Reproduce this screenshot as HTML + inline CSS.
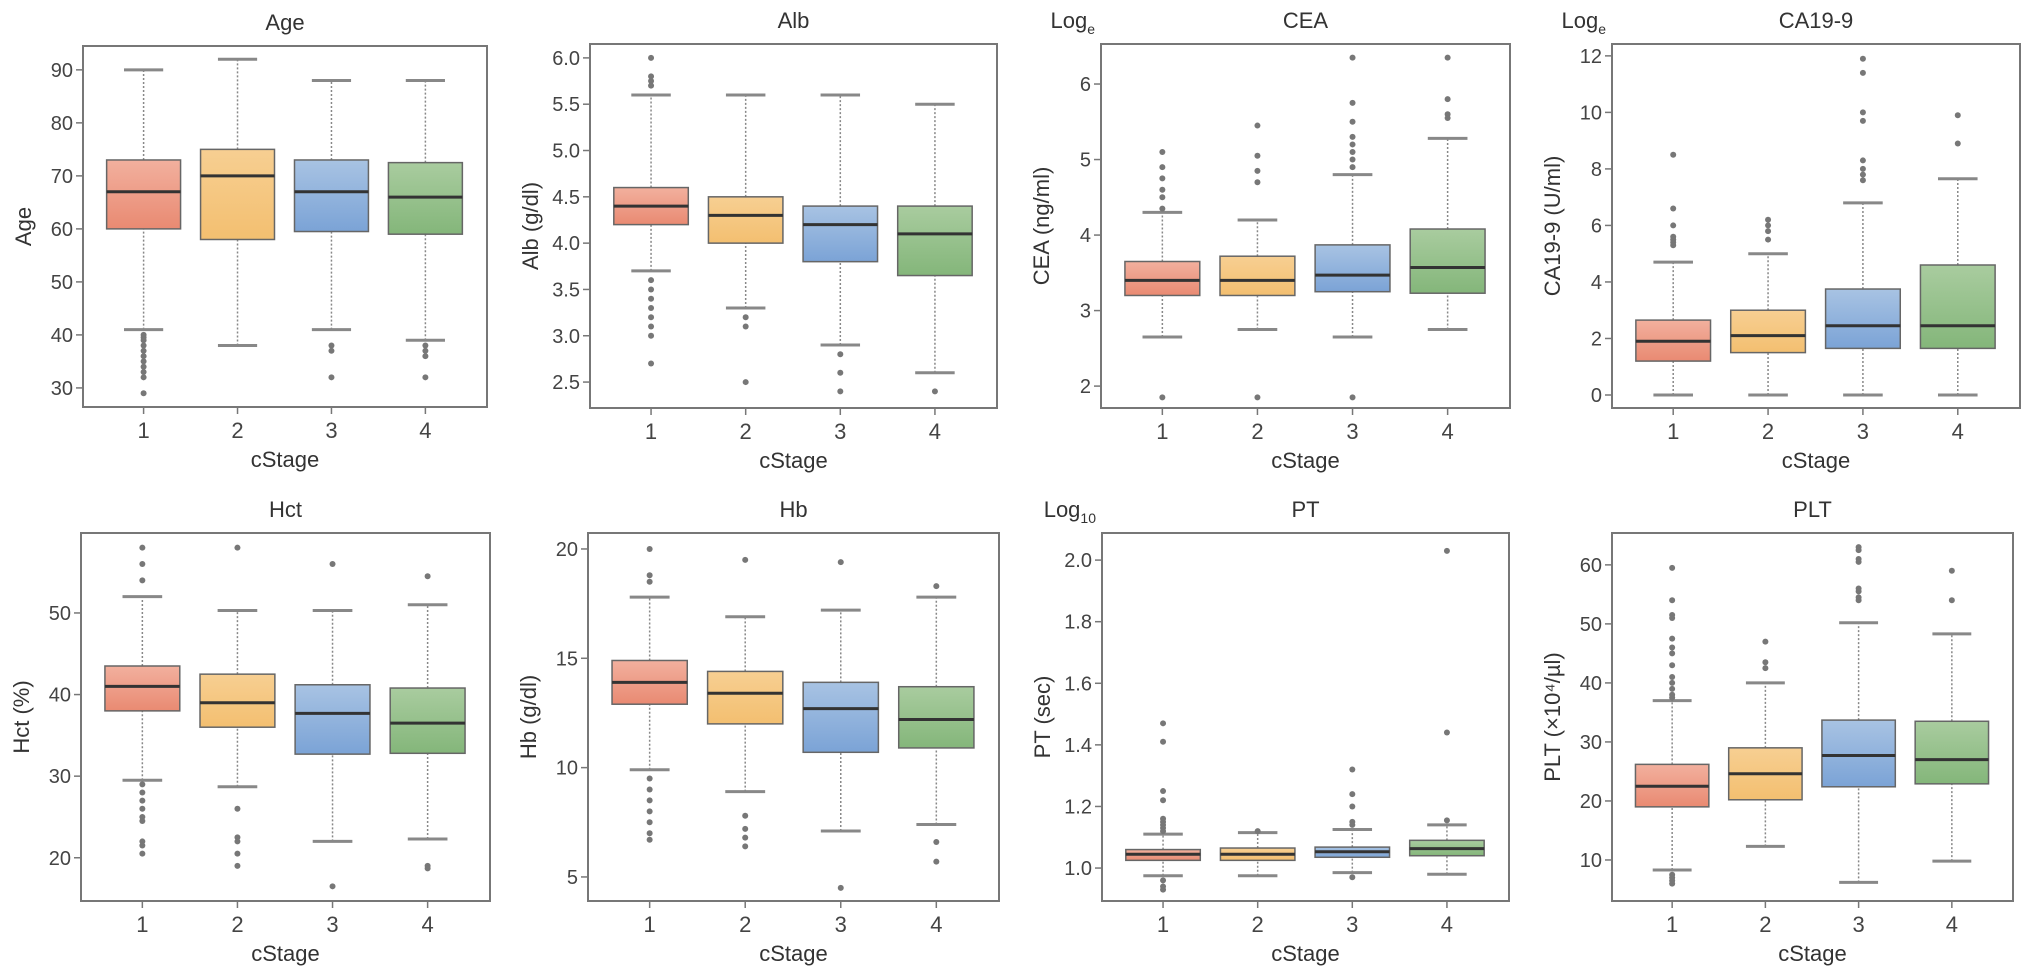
<!DOCTYPE html>
<html><head><meta charset="utf-8"><style>
html,body{margin:0;padding:0;background:#fff;}
svg{display:block;font-family:"Liberation Sans",sans-serif;}
</style></head><body>
<svg id="fig" width="2032" height="980" viewBox="0 0 2032 980" xmlns="http://www.w3.org/2000/svg">
<defs>
<linearGradient id="g0" x1="0" y1="0" x2="0" y2="1"><stop offset="0" stop-color="#f2b09e"/><stop offset="1" stop-color="#e98a72"/></linearGradient>
<linearGradient id="g1" x1="0" y1="0" x2="0" y2="1"><stop offset="0" stop-color="#f7cf92"/><stop offset="1" stop-color="#f3bf70"/></linearGradient>
<linearGradient id="g2" x1="0" y1="0" x2="0" y2="1"><stop offset="0" stop-color="#a8c3e3"/><stop offset="1" stop-color="#7ba3d6"/></linearGradient>
<linearGradient id="g3" x1="0" y1="0" x2="0" y2="1"><stop offset="0" stop-color="#a9cc9f"/><stop offset="1" stop-color="#84b67a"/></linearGradient>
</defs>
</svg>
<script>
const categories = ["1","2","3","4"];
// each stat: [lowerWhisker, q1, median, q3, upperWhisker]
const ageStats = [[41,60,67,73,90],[38,58,70,75,92],[41,59.5,67,73,88],[39,59,66,72.5,88]];
const ageOut = [[40,39.5,39,38,37,36,35,34,33,32,29],[],[38,37,32],[38,37,36,32]];
const albStats = [[3.7,4.2,4.4,4.6,5.6],[3.3,4.0,4.3,4.5,5.6],[2.9,3.8,4.2,4.4,5.6],[2.6,3.65,4.1,4.4,5.5]];
const albOut = [[6.0,5.8,5.75,5.7,3.6,3.5,3.4,3.3,3.2,3.1,3.0,2.7],[3.2,3.1,2.5],[2.8,2.6,2.4],[2.4]];
const ceaStats = [[2.65,3.2,3.4,3.65,4.3],[2.75,3.2,3.4,3.72,4.2],[2.65,3.25,3.47,3.87,4.8],[2.75,3.23,3.57,4.08,5.28]];
const ceaOut = [[5.1,4.9,4.75,4.6,4.5,4.35,1.85],[5.45,5.05,4.85,4.7,1.85],[6.35,5.75,5.5,5.3,5.2,5.1,5.0,4.9,1.85],[6.35,5.8,5.6,5.55]];
const caStats = [[0,1.2,1.9,2.65,4.7],[0,1.5,2.1,3.0,5.0],[0,1.65,2.45,3.75,6.8],[0,1.65,2.45,4.6,7.65]];
const caOut = [[8.5,6.6,6.0,5.6,5.5,5.4,5.3],[6.2,6.0,5.8,5.5],[11.9,11.4,10.0,9.7,8.3,8.0,7.8,7.6],[9.9,8.9]];
const hctStats = [[29.5,38,41,43.5,52],[28.7,36,39,42.5,50.3],[22,32.7,37.7,41.2,50.3],[22.3,32.8,36.5,40.8,51]];
const hctOut = [[58,56,54,29,28,27,26,25,24.5,22,21.5,20.5],[58,26,22.5,22,20.5,19],[56,16.5],[54.5,19,18.7]];
const hbStats = [[9.9,12.9,13.9,14.9,17.8],[8.9,12,13.4,14.4,16.9],[7.1,10.7,12.7,13.9,17.2],[7.4,10.9,12.2,13.7,17.8]];
const hbOut = [[20,18.8,18.5,9.5,9,8.5,8,7.5,7,6.7],[19.5,7.8,7.2,6.8,6.4],[19.4,4.5],[18.3,6.6,5.7]];
const ptStats = [[0.975,1.025,1.045,1.06,1.11],[0.975,1.025,1.045,1.065,1.115],[0.985,1.035,1.053,1.068,1.125],[0.98,1.04,1.063,1.09,1.14]];
const ptOut = [[1.47,1.41,1.25,1.22,1.16,1.15,1.14,1.13,1.12,0.96,0.94,0.93],[1.12],[1.32,1.24,1.20,1.15,1.14,0.97],[2.03,1.44,1.155]];
const pltStats = [[8.3,19,22.5,26.2,37],[12.3,20.2,24.6,29,40],[6.2,22.4,27.7,33.7,50.2],[9.8,22.9,27,33.5,48.3]];
const pltOut = [[59.5,54,51.5,51,47.5,46,45,43,41,40,39,38,37.5,7.5,7,6.5,6],[47,43.5,42.5],[63,62.5,61,60.5,56,55.5,54.5,54],[59,54]];
const ageTicks=[30,40,50,60,70,80,90], albTicks=["2.5","3.0","3.5","4.0","4.5","5.0","5.5","6.0"], ceaTicks=[2,3,4,5,6], caTicks=[0,2,4,6,8,10,12], hctTicks=[20,30,40,50], hbTicks=[5,10,15,20], ptTicks=["1.0","1.2","1.4","1.6","1.8","2.0"], pltTicks=[10,20,30,40,50,60];

const NS="http://www.w3.org/2000/svg";
const svg=document.getElementById('fig');
function mk(tag,attrs,parent){const e=document.createElementNS(NS,tag);for(const k in attrs)e.setAttribute(k,attrs[k]);(parent||svg).appendChild(e);return e;}

const panels=[
 {key:"age",title:"Age",ylab:"Age",x0:83,x1:487,y0:46,y1:407,d:[26.4,94.5],st:ageStats,out:ageOut,ticks:ageTicks},
 {key:"alb",title:"Alb",ylab:"Alb (g/dl)",x0:590,x1:997,y0:44,y1:408,d:[2.22,6.15],st:albStats,out:albOut,ticks:albTicks},
 {key:"cea",title:"CEA",ylab:"CEA (ng/ml)",x0:1101,x1:1510,y0:44,y1:408,d:[1.71,6.53],st:ceaStats,out:ceaOut,ticks:ceaTicks,log:"e"},
 {key:"ca199",title:"CA19-9",ylab:"CA19-9 (U/ml)",x0:1612,x1:2020,y0:44,y1:408,d:[-0.46,12.42],st:caStats,out:caOut,ticks:caTicks,log:"e"},
 {key:"hct",title:"Hct",ylab:"Hct (%)",x0:81,x1:490,y0:533,y1:901,d:[14.7,59.8],st:hctStats,out:hctOut,ticks:hctTicks},
 {key:"hb",title:"Hb",ylab:"Hb (g/dl)",x0:588,x1:999,y0:533,y1:901,d:[3.9,20.73],st:hbStats,out:hbOut,ticks:hbTicks},
 {key:"pt",title:"PT",ylab:"PT (sec)",x0:1102,x1:1509,y0:533,y1:901,d:[0.893,2.088],st:ptStats,out:ptOut,ticks:ptTicks,log:"10"},
 {key:"plt",title:"PLT",ylab:"PLT (×10⁴/µl)",x0:1612,x1:2013,y0:533,y1:901,d:[3.05,65.4],st:pltStats,out:pltOut,ticks:pltTicks}
];

panels.forEach(p=>{
  const g=mk('g',{});
  
  
  const W=p.x1-p.x0;
  const y=v=>p.y1-(v-p.d[0])/(p.d[1]-p.d[0])*(p.y1-p.y0);
  const x=i=>p.x0+W*0.15+i*W*0.2325;
  const bw=W*0.183, cw=W*0.097;
  const t=mk('text',{x:(p.x0+p.x1)/2,y:p.y0-16,'text-anchor':'middle','font-size':22,fill:'#333'},g);
  t.textContent=p.title;
  
  
  if(p.log){
    const l=mk('text',{x:p.x0-6,y:p.y0-16,'text-anchor':'end','font-size':22,fill:'#333'},g);
    l.textContent="Log";
    const s=mk('tspan',{'font-size':14,dy:6},l); s.textContent=p.log;
    
    
  }
  // ticks
  p.ticks.forEach(tv=>{
    const yy=y(parseFloat(tv));
    mk('line',{x1:p.x0-7,x2:p.x0,y1:yy,y2:yy,stroke:'#777','stroke-width':1.5},g);
    const tl=mk('text',{x:p.x0-10,y:yy+7,'text-anchor':'end','font-size':20,fill:'#444'},g);
    tl.textContent=String(tv);
    
    
  });
  const yl=mk('text',{transform:`translate(${p.x0-52},${(p.y0+p.y1)/2}) rotate(-90)`,'text-anchor':'middle','font-size':22,fill:'#333'},g);
  yl.textContent=p.ylab;
  
  
  categories.forEach((c,i)=>{
    const cx=x(i), s=p.st[i];
    mk('line',{x1:cx,x2:cx,y1:p.y1,y2:p.y1+7,stroke:'#777','stroke-width':1.5},g);
    const xl=mk('text',{x:cx,y:p.y1+31,'text-anchor':'middle','font-size':22,fill:'#444'},g);
    xl.textContent=c;
    
    
    mk('line',{x1:cx,x2:cx,y1:y(s[0]),y2:y(s[1]),stroke:'#888','stroke-width':1.5,'stroke-dasharray':'2,2'},g);
    mk('line',{x1:cx,x2:cx,y1:y(s[3]),y2:y(s[4]),stroke:'#888','stroke-width':1.5,'stroke-dasharray':'2,2'},g);
    mk('line',{x1:cx-cw/2,x2:cx+cw/2,y1:y(s[0]),y2:y(s[0]),stroke:'#888','stroke-width':3},g);
    mk('line',{x1:cx-cw/2,x2:cx+cw/2,y1:y(s[4]),y2:y(s[4]),stroke:'#888','stroke-width':3},g);
    const b=mk('rect',{x:cx-bw/2,y:y(s[3]),width:bw,height:y(s[1])-y(s[3]),fill:`url(#g${i})`,stroke:'#666','stroke-width':1.5},g);
    
    
    mk('line',{x1:cx-bw/2,x2:cx+bw/2,y1:y(s[2]),y2:y(s[2]),stroke:'#333','stroke-width':3},g);
    p.out[i].forEach(o=>{
      const pt=mk('circle',{cx:cx,cy:y(o),r:3,fill:'#777'},g);
      
      
    });
  });
  const fr=mk('rect',{x:p.x0,y:p.y0,width:W,height:p.y1-p.y0,fill:'none',stroke:'#777','stroke-width':2},g);
  
  
  const xt=mk('text',{x:(p.x0+p.x1)/2,y:p.y1+60,'text-anchor':'middle','font-size':22,fill:'#333'},g);
  xt.textContent="cStage";
  
  
});
</script>
</body></html>
